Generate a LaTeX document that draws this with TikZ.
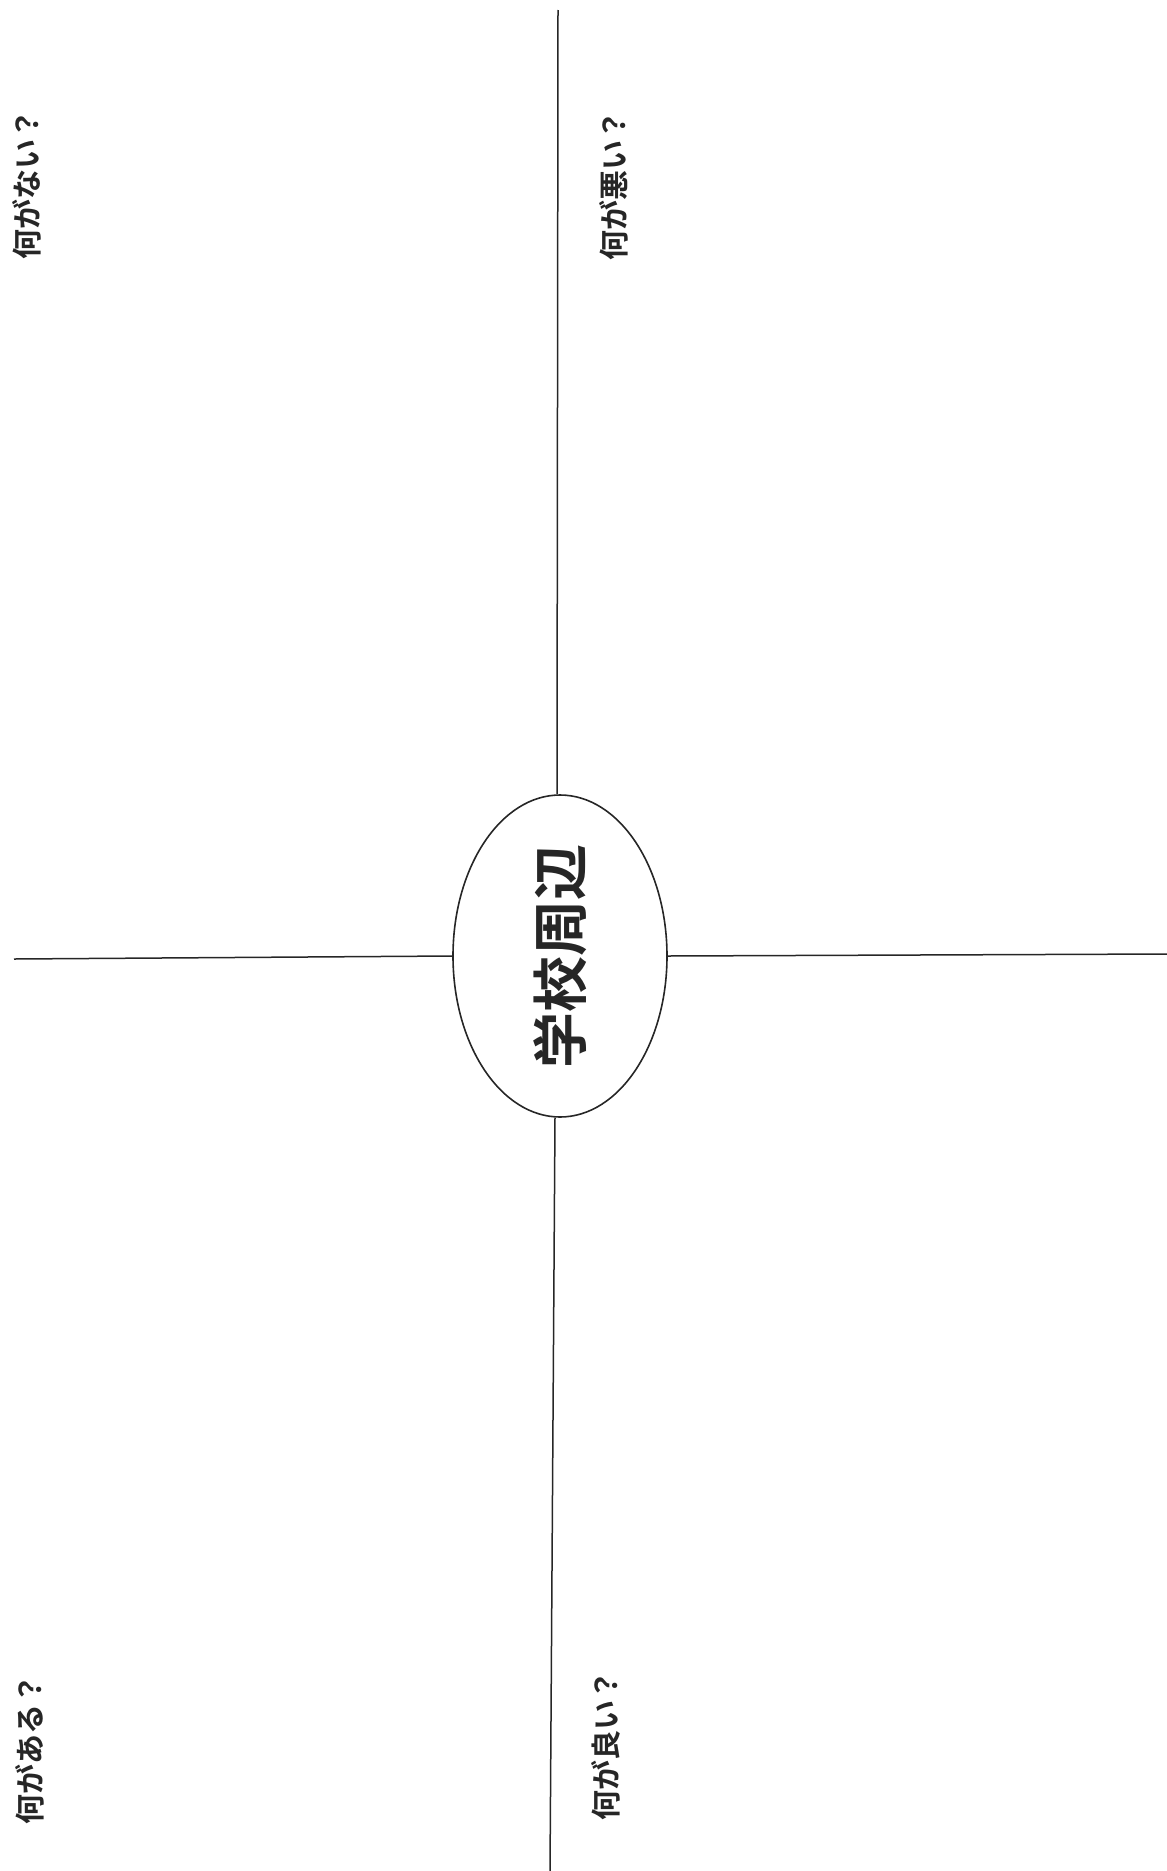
\documentclass[tikz,border=0pt]{standalone}
\usepackage{fontspec}
\newfontfamily\jp{Noto Sans CJK JP}[BoldFont={Noto Sans CJK JP Bold}]
\usetikzlibrary{shapes.geometric}
\tikzset{
  axis/.style={line width=1.5pt, draw=black!85},
  q/.style={rotate=90, inner sep=0pt, font=\jp\bfseries\fontsize{30pt}{30pt}\selectfont, text=black!85},
  hub/.style={ellipse, draw=black!85, line width=1.6pt, minimum width=214pt, minimum height=322pt, inner sep=0pt}
}
\begin{document}
\begin{tikzpicture}[x=1pt,y=-1pt]
\useasboundingbox (0,0) rectangle (1167,1871);
\node[hub] (c) at (560,956) {\rotatebox{90}{\jp\bfseries\fontsize{56pt}{56pt}\selectfont\color{black!85}学校周辺}};
\coordinate (t) at (558,10);
\coordinate (b) at (550,1871);
\coordinate (l) at (14,959);
\coordinate (r) at (1167,954);
\draw[axis] (t) -- ([xshift=-3pt]c.north);
\draw[axis] ([xshift=-5pt]c.south) -- (b);
\draw[axis] (l) -- (c.west);
\draw[axis] (c.east) -- (r);
\node[q] (nai) at (27,184) {何がない？};
\node[q] (warui) at (614,185) {何が悪い？};
\node[q] (aru) at (30,1749) {何がある？};
\node[q] (yoi) at (606,1745) {何が良い？};
\end{tikzpicture}
\end{document}
